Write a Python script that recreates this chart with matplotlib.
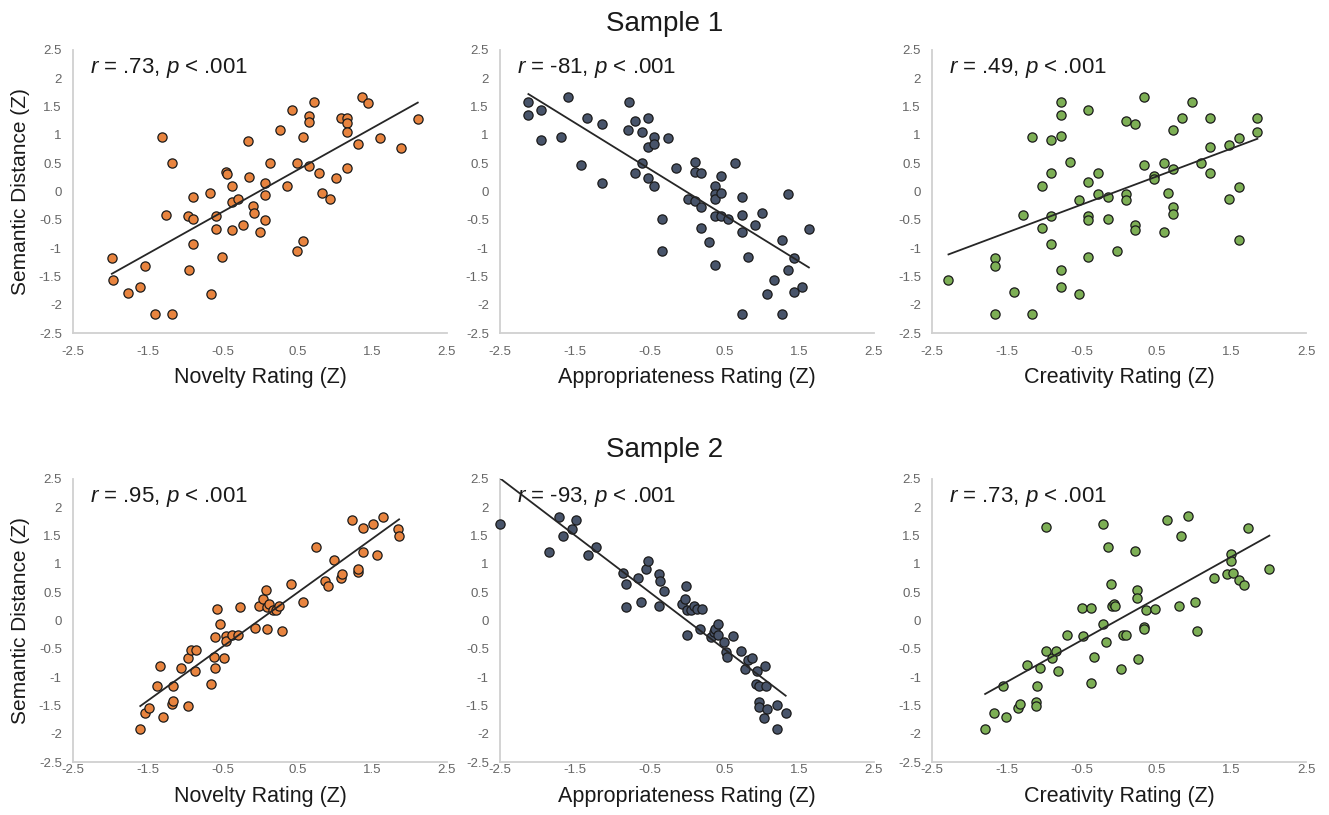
import numpy as np
import matplotlib
matplotlib.use("Agg")
import matplotlib.pyplot as plt

plt.rcParams["font.family"] = ["Liberation Sans", "DejaVu Sans"]
plt.rcParams["mathtext.fontset"] = "custom"
plt.rcParams["mathtext.rm"] = "Liberation Sans"
plt.rcParams["mathtext.it"] = "Liberation Sans:italic"

# ---------------------------------------------
# Sample 1
# ---------------------------------------------
s1_nov_x = [-1.98, -1.97, -1.76, -1.61, -1.54, -1.40, -1.17, -1.31, -1.17, -1.25,
            -0.96, -0.89, -0.89, -0.89, -0.95, -0.67, -0.66, -0.59, -0.59, -0.51,
            -0.45, -0.44, -0.38, -0.38, -0.30, -0.38, -0.23, -0.16, -0.15, -0.09,
            -0.08, 0.00, 0.07, 0.07, 0.07, 0.13, 0.27, 0.36, 0.43, 0.50,
            0.50, 0.58, 0.58, 0.65, 0.65, 0.65, 0.72, 0.79, 0.83, 0.94,
            1.02, 1.08, 1.16, 1.16, 1.16, 1.16, 1.31, 1.37, 1.45, 1.60,
            1.88, 2.11]
s1_nov_y = [-1.18, -1.56, -1.80, -1.69, -1.31, -2.17, -2.17, 0.96, 0.51, -0.41,
            -0.44, -0.49, -0.09, -0.93, -1.39, -0.03, -1.81, -0.44, -0.66, -1.15,
            0.35, 0.31, 0.09, -0.18, -0.14, -0.69, -0.60, 0.89, 0.26, -0.26,
            -0.39, -0.72, -0.50, 0.14, -0.07, 0.51, 1.09, 0.09, 1.44, 0.50,
            -1.06, -0.87, 0.96, 1.33, 1.23, 0.44, 1.57, 0.32, -0.03, -0.14,
            0.23, 1.29, 1.29, 1.20, 1.04, 0.41, 0.83, 1.66, 1.56, 0.95,
            0.77, 1.28]

s1_app_x = [-2.12, -2.12, -1.95, -1.95, -1.68, -1.59, -1.41, -1.33, -1.14, -1.14,
            -0.78, -0.79, -0.70, -0.70, -0.60, -0.60, -0.52, -0.52, -0.52, -0.44,
            -0.44, -0.44, -0.34, -0.34, -0.25, -0.15, 0.01, 0.11, 0.11, 0.11,
            0.19, 0.19, 0.19, 0.30, 0.37, 0.37, 0.37, 0.37, 0.37, 0.45,
            0.45, 0.46, 0.55, 0.64, 0.73, 0.73, 0.73, 0.73, 0.81, 0.91,
            1.00, 1.07, 1.17, 1.27, 1.27, 1.35, 1.35, 1.43, 1.43, 1.54,
            1.63]
s1_app_y = [1.57, 1.35, 1.43, 0.90, 0.96, 1.66, 0.46, 1.29, 1.19, 0.14,
            1.57, 1.09, 1.24, 0.32, 1.04, 0.50, 1.30, 0.78, 0.23, 0.96,
            0.83, 0.09, -0.49, -1.05, 0.94, 0.42, -0.14, 0.52, 0.34, -0.17,
            0.32, -0.27, -0.65, -0.90, 0.09, -0.04, -0.14, -0.43, -1.30, 0.27,
            -0.03, -0.44, -0.49, 0.51, -0.09, -0.42, -0.71, -2.17, -1.15, -0.60,
            -0.39, -1.81, -1.56, -0.86, -2.17, -0.04, -1.39, -1.18, -1.78, -1.69,
            -0.67]

s1_cre_x = [-2.28, -1.66, -1.66, -1.66, -1.40, -1.28, -1.16, -1.16, -1.03, -1.03,
            -0.91, -0.91, -0.91, -0.91, -0.78, -0.78, -0.78, -0.78, -0.78, -0.65,
            -0.53, -0.53, -0.42, -0.42, -0.42, -0.42, -0.42, -0.28, -0.28, -0.15,
            -0.15, -0.03, 0.09, 0.09, 0.09, 0.22, 0.22, 0.22, 0.34, 0.34,
            0.47, 0.47, 0.60, 0.60, 0.66, 0.72, 0.72, 0.72, 0.72, 0.84,
            0.97, 1.10, 1.22, 1.22, 1.22, 1.47, 1.47, 1.60, 1.60, 1.60,
            1.85, 1.85]
s1_cre_y = [-1.56, -1.18, -1.32, -2.17, -1.78, -0.42, 0.96, -2.17, 0.09, -0.65,
            0.90, 0.32, -0.44, -0.92, 1.57, 1.35, 0.97, -1.39, -1.69, 0.52,
            -0.16, -1.81, 1.43, 0.16, -0.43, -0.50, -1.15, 0.33, -0.05, -0.09,
            -0.49, -1.05, 1.24, -0.04, -0.15, 1.19, -0.60, -0.68, 1.66, 0.46,
            0.27, 0.22, 0.51, -0.72, -0.03, 1.09, 0.40, -0.27, -0.40, 1.30,
            1.57, 0.51, 1.29, 0.78, 0.33, 0.82, -0.14, 0.94, 0.07, -0.86,
            1.30, 1.04]

# ---------------------------------------------
# Sample 2
# ---------------------------------------------
s2_nov_x = [-1.60, -1.54, -1.49, -1.37, -1.34, -1.29, -1.18, -1.16, -1.16, -1.06,
            -0.96, -0.96, -0.92, -0.85, -0.87, -0.66, -0.62, -0.60, -0.60, -0.58,
            -0.53, -0.48, -0.46, -0.46, -0.37, -0.29, -0.27, -0.07, -0.01, 0.04,
            0.08, 0.09, 0.10, 0.12, 0.18, 0.22, 0.26, 0.29, 0.41, 0.57,
            0.75, 0.87, 0.91, 0.99, 1.08, 1.10, 1.23, 1.31, 1.31, 1.38,
            1.38, 1.51, 1.57, 1.65, 1.84, 1.86]
s2_nov_y = [-1.91, -1.63, -1.54, -1.16, -0.80, -1.71, -1.48, -1.43, -1.16, -0.84,
            -1.51, -0.67, -0.53, -0.53, -0.89, -1.12, -0.65, -0.84, -0.29, 0.21,
            -0.07, -0.67, -0.28, -0.37, -0.25, -0.25, 0.23, -0.13, 0.26, 0.38,
            0.53, 0.23, -0.16, 0.29, 0.19, 0.19, 0.25, -0.19, 0.64, 0.32,
            1.29, 0.70, 0.60, 1.06, 0.75, 0.82, 1.78, 0.86, 0.91, 1.64,
            1.21, 1.70, 1.16, 1.83, 1.61, 1.49]

s2_app_x = [-2.50, -1.84, -1.71, -1.66, -1.54, -1.48, -1.32, -1.22, -0.86, -0.82,
            -0.82, -0.65, -0.62, -0.55, -0.52, -0.38, -0.36, -0.38, -0.31, -0.06,
            -0.03, -0.01, 0.00, 0.00, 0.05, 0.10, 0.14, 0.20, 0.17, 0.32,
            0.36, 0.38, 0.41, 0.41, 0.49, 0.52, 0.53, 0.61, 0.72, 0.81,
            0.87, 0.78, 0.93, 1.04, 0.92, 0.96, 1.06, 0.96, 0.96, 1.07,
            1.03, 1.21, 1.21, 1.32]
s2_app_y = [1.70, 1.21, 1.82, 1.49, 1.61, 1.78, 1.16, 1.29, 0.84, 0.64,
            0.23, 0.75, 0.32, 0.90, 1.05, 0.82, 0.70, 0.25, 0.52, 0.29,
            0.38, 0.60, 0.18, -0.25, 0.19, 0.25, 0.21, 0.21, -0.16, -0.29,
            -0.21, -0.16, -0.06, -0.26, -0.38, -0.55, -0.65, -0.28, -0.54, -0.69,
            -0.67, -0.85, -0.90, -0.80, -1.12, -1.16, -1.16, -1.44, -1.53, -1.56,
            -1.72, -1.50, -1.92, -1.63]

s2_cre_x = [-1.79, -1.67, -1.51, -1.55, -1.35, -1.32, -1.23, -1.11, -1.11, -1.09,
            -1.05, -0.97, -0.97, -0.89, -0.84, -0.81, -0.69, -0.50, -0.48, -0.37,
            -0.37, -0.34, -0.22, -0.22, -0.18, -0.15, -0.11, -0.10, -0.07, -0.06,
            0.02, 0.05, 0.09, 0.21, 0.24, 0.24, 0.25, 0.33, 0.33, 0.36,
            0.48, 0.64, 0.80, 0.83, 0.92, 1.02, 1.04, 1.27, 1.44, 1.50,
            1.50, 1.52, 1.61, 1.67, 1.73, 2.01]
s2_cre_y = [-1.91, -1.63, -1.70, -1.16, -1.54, -1.48, -0.79, -1.44, -1.51, -1.16,
            -0.84, -0.54, 1.65, -0.66, -0.54, -0.89, -0.25, 0.22, -0.28, 0.22,
            -1.10, -0.65, -0.06, 1.70, -0.38, 1.29, 0.64, 0.25, 0.29, 0.25,
            -0.85, -0.26, -0.25, 1.23, 0.53, 0.39, -0.68, -0.12, -0.16, 0.19,
            0.21, 1.78, 0.26, 1.49, 1.84, 0.33, -0.19, 0.75, 0.82, 1.18,
            1.05, 0.84, 0.72, 0.62, 1.63, 0.90]

stat_labels = [
    [r"$\it{r}$ = .73, $\it{p}$ < .001", r"$\it{r}$ = -81, $\it{p}$ < .001", r"$\it{r}$ = .49, $\it{p}$ < .001"],
    [r"$\it{r}$ = .95, $\it{p}$ < .001", r"$\it{r}$ = -93, $\it{p}$ < .001", r"$\it{r}$ = .73, $\it{p}$ < .001"],
]
x_labels = ["Novelty Rating (Z)", "Appropriateness Rating (Z)", "Creativity Rating (Z)"]
sample_titles = ["Sample 1", "Sample 2"]
x_ticks = [-2.5, -1.5, -0.5, 0.5, 1.5, 2.5]
x_tick_labels = ["-2.5", "-1.5", "-0.5", "0.5", "1.5", "2.5"]
y_ticks = [-2.5, -2, -1.5, -1, -0.5, 0, 0.5, 1, 1.5, 2, 2.5]
y_tick_labels = ["-2.5", "-2", "-1.5", "-1", "-0.5", "0", "0.5", "1", "1.5", "2", "2.5"]

colors = ["#E8843F", "#48546A", "#7DAF55"]
data = [
    [(s1_nov_x, s1_nov_y), (s1_app_x, s1_app_y), (s1_cre_x, s1_cre_y)],
    [(s2_nov_x, s2_nov_y), (s2_app_x, s2_app_y), (s2_cre_x, s2_cre_y)],
]

fig = plt.figure(figsize=(13.29, 8.15), dpi=100)

lefts = [0.0549, 0.3762, 0.7013]
bottoms = [0.5914, 0.0650]
width = 0.2814
height = 0.3475
# bottom row sits tighter to the figure edge in the original
x_pads = [9, 1.5]
xlabel_y = [-0.12, -0.085]

for row in range(2):
    for col in range(3):
        ax = fig.add_axes([lefts[col], bottoms[row], width, height])
        xs = np.array(data[row][col][0])
        ys = np.array(data[row][col][1])

        ax.scatter(xs, ys, s=44, color=colors[col], edgecolors="#1a1a1a",
                   linewidths=0.9, zorder=3, clip_on=False)

        # linear trend line over the data range
        slope, intercept = np.polyfit(xs, ys, 1)
        line_x = np.array([xs.min(), xs.max()])
        ax.plot(line_x, slope * line_x + intercept, color="#262626", lw=1.3, zorder=4)

        ax.set_xlim(-2.5, 2.5)
        ax.set_ylim(-2.5, 2.5)
        ax.set_xticks(x_ticks)
        ax.set_xticklabels(x_tick_labels)
        ax.set_yticks(y_ticks)
        ax.set_yticklabels(y_tick_labels)
        ax.tick_params(length=0, labelsize=9.5, labelcolor="#666666")
        ax.tick_params(axis="x", pad=x_pads[row])
        ax.tick_params(axis="y", pad=8)

        for side in ["top", "right"]:
            ax.spines[side].set_visible(False)
        for side in ["left", "bottom"]:
            ax.spines[side].set_color("#d0d0d0")
            ax.spines[side].set_linewidth(1.3)

        ax.set_xlabel(x_labels[col], fontsize=15.5, color="#1a1a1a")
        ax.xaxis.set_label_coords(0.5, xlabel_y[row])
        if col == 0:
            ax.set_ylabel("Semantic Distance (Z)", fontsize=15, color="#1a1a1a")
            ax.yaxis.set_label_coords(-0.115, 0.5)

        ax.text(0.045, 0.935, stat_labels[row][col], transform=ax.transAxes,
                fontsize=16, va="center", ha="left", color="#1a1a1a")

fig.text(0.5, 0.970, sample_titles[0], fontsize=20, ha="center", va="center", color="#1a1a1a")
fig.text(0.5, 0.448, sample_titles[1], fontsize=20, ha="center", va="center", color="#1a1a1a")

fig.savefig("out.png", dpi=100)
